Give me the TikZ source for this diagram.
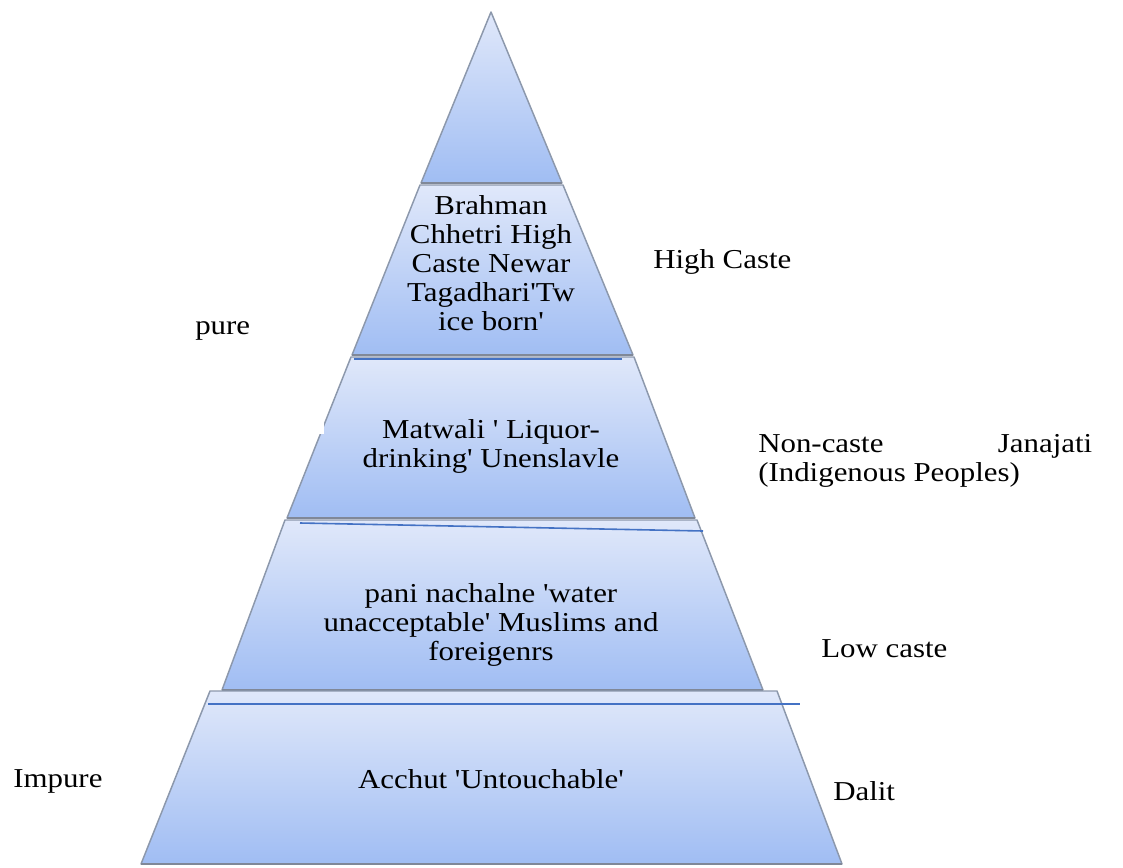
\documentclass[tikz,border=0pt]{standalone}
\usepackage{fontspec}
\newfontfamily\ser{Liberation Serif}[FakeStretch=1.13]
\definecolor{segtop}{RGB}{224,232,250}
\definecolor{segbot}{RGB}{160,189,243}
\definecolor{edgegray}{RGB}{140,152,172}
\definecolor{basegray}{RGB}{128,136,152}
\definecolor{lineblue}{RGB}{68,114,196}
\newcommand\cstack[1]{\vtop{\baselineskip=21.75pt\lineskiplimit=-\maxdimen\halign{\hfil##\hfil\cr#1\crcr}}}
\newcommand\lstack[1]{\vtop{\baselineskip=21.75pt\lineskiplimit=-\maxdimen\halign{##\hfil\cr#1\crcr}}}
\begin{document}
\begin{tikzpicture}[x=0.75pt,y=-0.75pt,
  seg/.style={top color=segtop,bottom color=segbot,draw=edgegray,line width=1.1pt,line join=round},
  baseedge/.style={draw=basegray,line width=2pt},
  blueline/.style={draw=lineblue,line width=1.2pt},
  lbl/.style={font=\ser\fontsize{20.5}{21.75}\selectfont,inner sep=0pt}]
\useasboundingbox (0,0) rectangle (1123,867);
\fill[white] (0,0) rectangle (1123,867);
% segments
\path[seg] (491,12) -- (562,183) -- (421,183) -- cycle;
\draw[baseedge] (421,183) -- (562,183);
\path[seg] (420,185) -- (563,185) -- (633,355) -- (352,355) -- cycle;
\draw[baseedge] (352,355) -- (633,355);
\path[seg] (351,357) -- (634,357) -- (695,518) -- (287,518) -- cycle;
\draw[baseedge] (287,518) -- (695,518);
\path[seg] (285,520) -- (697,520) -- (763,690) -- (222,690) -- cycle;
\draw[baseedge] (222,690) -- (763,690);
\path[seg] (210,691) -- (777,691) -- (842,864) -- (141,864) -- cycle;
\draw[baseedge] (141,864) -- (842,864);
% blue lines
\coordinate (b1a) at (354,359); \coordinate (b1b) at (622,359);
\coordinate (b2a) at (300,523); \coordinate (b2b) at (703,531);
\coordinate (b3a) at (208,704); \coordinate (b3b) at (800,704);
\draw[blueline] (b1a) -- (b1b);
\draw[blueline] (b2a) -- (b2b);
\draw[blueline] (b3a) -- (b3b);
% white text box of "pure"
\fill[white] (170,290) rectangle (324,434);
% texts inside
\node[lbl,anchor=base] (brahman) at (491,214) {\cstack{Brahman\cr Chhetri High\cr Caste Newar\cr Tagadhari'Tw\cr ice born'}};
\node[lbl,anchor=base] (matwali) at (491,438) {\cstack{Matwali ' Liquor-\cr drinking' Unenslavle}};
\node[lbl,anchor=base] (pani) at (491,602) {\cstack{pani nachalne 'water\cr unacceptable' Muslims and\cr foreigenrs}};
\node[lbl,anchor=base] (acchut) at (491,788) {Acchut 'Untouchable'};
% side labels
\node[lbl,anchor=base west] (high) at (653,268) {High Caste};
\node[lbl,anchor=base west] (pure) at (195,334) {pure};
\node[lbl,anchor=base west] (noncaste) at (758,452) {\lstack{\makebox[250.5pt]{Non-caste\hfill Janajati}\cr (Indigenous Peoples)}};
\node[lbl,anchor=base west] (low) at (821,657) {Low caste};
\node[lbl,anchor=base west] (impure) at (13,787) {Impure};
\node[lbl,anchor=base west] (dalit) at (833,800) {Dalit};
\end{tikzpicture}
\end{document}
